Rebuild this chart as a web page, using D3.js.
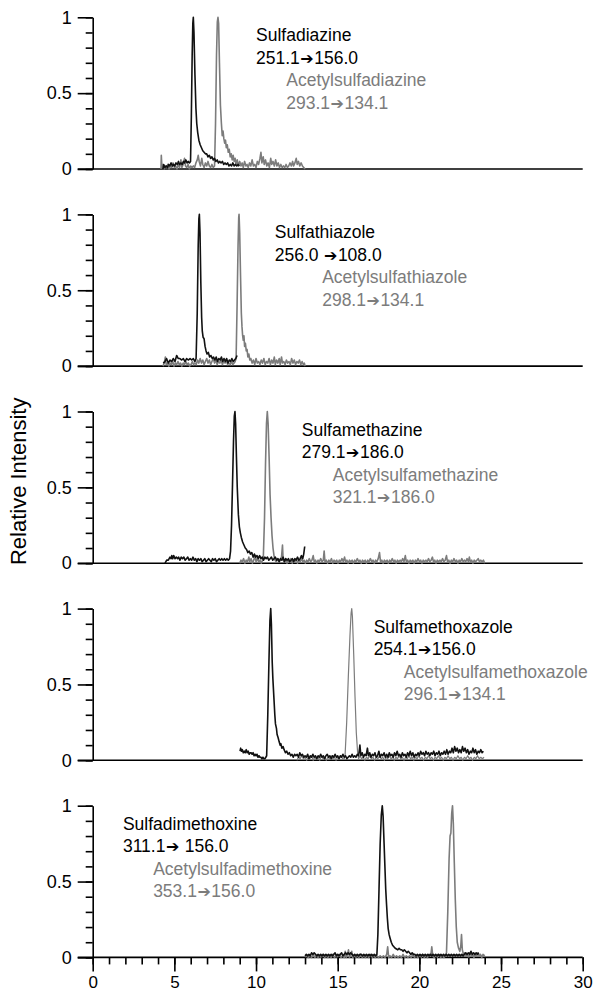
<!DOCTYPE html>
<html>
<head>
<meta charset="utf-8">
<script src="https://cdn.jsdelivr.net/npm/d3@7"></script>
<style>
  body { margin: 0; background: #fff; }
  svg { display: block; font-family: "Liberation Sans", Arial, sans-serif; }
</style>
</head>
<body>
<div id="chart"></div>
<script>
// chromatogram data: [retention time (min), relative intensity]

// panel 1
const sulfadiazine = [[4.30,0.00],[4.35,0.03],[4.42,0.01],[4.50,0.02],[4.58,0.01],[4.65,0.03],[4.72,0.02],[4.80,0.04],[4.88,0.02],[4.95,0.03],[5.02,0.02],[5.10,0.04],[5.18,0.03],[5.25,0.05],[5.32,0.03],[5.40,0.04],[5.48,0.03],[5.55,0.05],[5.62,0.04],[5.70,0.06],[5.78,0.04],[5.85,0.05],[5.92,0.04],[5.99,0.05],[6.04,0.35],[6.09,0.75],[6.13,0.96],[6.16,1.00],[6.20,0.90],[6.26,0.62],[6.32,0.40],[6.37,0.30],[6.43,0.24],[6.50,0.19],[6.58,0.16],[6.66,0.14],[6.74,0.12],[6.82,0.11],[6.90,0.10],[6.98,0.10],[7.06,0.08],[7.14,0.09],[7.22,0.07],[7.30,0.08],[7.38,0.06],[7.46,0.07],[7.54,0.05],[7.62,0.06],[7.70,0.04],[7.78,0.05],[7.86,0.04],[7.94,0.05],[8.02,0.03],[8.10,0.04],[8.18,0.03],[8.26,0.04],[8.34,0.02],[8.42,0.03],[8.50,0.02],[8.58,0.04],[8.66,0.02],[8.74,0.03],[8.82,0.02],[8.90,0.03],[8.98,0.02]];
const acetylsulfadiazine = [[4.18,0.00],[4.20,0.09],[4.24,0.01],[4.30,0.03],[4.38,0.00],[4.45,0.02],[4.52,0.01],[4.60,0.03],[4.68,0.00],[4.76,0.02],[4.84,0.01],[4.92,0.04],[5.00,0.01],[5.08,0.02],[5.16,0.00],[5.24,0.03],[5.32,0.01],[5.40,0.06],[5.46,0.01],[5.54,0.03],[5.62,0.07],[5.68,0.02],[5.76,0.01],[5.84,0.03],[5.92,0.00],[6.00,0.02],[6.08,0.01],[6.16,0.02],[6.24,0.01],[6.32,0.04],[6.40,0.06],[6.46,0.09],[6.52,0.05],[6.60,0.02],[6.68,0.07],[6.74,0.03],[6.82,0.01],[6.90,0.04],[6.98,0.02],[7.06,0.05],[7.14,0.02],[7.22,0.01],[7.30,0.03],[7.38,0.01],[7.46,0.02],[7.52,0.30],[7.58,0.75],[7.63,0.97],[7.67,1.00],[7.71,0.96],[7.76,0.70],[7.82,0.42],[7.88,0.30],[7.93,0.22],[7.98,0.25],[8.03,0.20],[8.08,0.17],[8.13,0.19],[8.18,0.14],[8.24,0.16],[8.30,0.11],[8.36,0.13],[8.42,0.08],[8.48,0.10],[8.54,0.06],[8.60,0.09],[8.66,0.05],[8.72,0.07],[8.78,0.03],[8.85,0.06],[8.92,0.02],[9.00,0.05],[9.08,0.02],[9.15,0.04],[9.22,0.01],[9.30,0.05],[9.38,0.02],[9.45,0.03],[9.52,0.01],[9.60,0.04],[9.68,0.02],[9.76,0.06],[9.84,0.02],[9.92,0.03],[10.00,0.01],[10.08,0.05],[10.16,0.03],[10.24,0.07],[10.30,0.11],[10.36,0.04],[10.44,0.08],[10.50,0.03],[10.58,0.06],[10.66,0.02],[10.74,0.04],[10.82,0.01],[10.90,0.07],[10.96,0.03],[11.04,0.05],[11.12,0.02],[11.20,0.06],[11.28,0.02],[11.36,0.04],[11.44,0.01],[11.52,0.03],[11.60,0.01],[11.68,0.02],[11.76,0.01],[11.84,0.03],[11.92,0.01],[12.00,0.02],[12.08,0.04],[12.16,0.02],[12.24,0.05],[12.30,0.02],[12.38,0.04],[12.46,0.07],[12.52,0.03],[12.60,0.05],[12.68,0.02],[12.76,0.04],[12.84,0.02],[12.92,0.01],[13.00,0.00]];

// panel 2
const sulfathiazole = [[4.32,0.02],[4.42,0.03],[4.52,0.05],[4.63,0.02],[4.73,0.04],[4.83,0.03],[4.93,0.05],[5.04,0.03],[5.14,0.07],[5.24,0.05],[5.34,0.05],[5.45,0.04],[5.55,0.05],[5.65,0.03],[5.75,0.05],[5.85,0.04],[5.96,0.05],[6.06,0.04],[6.16,0.05],[6.26,0.03],[6.33,0.05],[6.40,0.35],[6.46,0.80],[6.50,0.97],[6.53,1.00],[6.57,0.88],[6.62,0.55],[6.67,0.32],[6.71,0.23],[6.76,0.19],[6.82,0.18],[6.88,0.13],[6.94,0.10],[7.00,0.08],[7.08,0.09],[7.16,0.06],[7.24,0.07],[7.32,0.05],[7.40,0.06],[7.48,0.04],[7.56,0.06],[7.64,0.03],[7.72,0.05],[7.80,0.04],[7.88,0.06],[7.96,0.03],[8.04,0.05],[8.12,0.03],[8.20,0.05],[8.28,0.02],[8.36,0.04],[8.44,0.03],[8.52,0.05],[8.60,0.03],[8.68,0.04],[8.76,0.05],[8.84,0.07]];
const acetylsulfathiazole = [[4.30,0.00],[4.38,0.02],[4.45,0.06],[4.50,0.01],[4.58,0.02],[4.66,0.00],[4.74,0.02],[4.82,0.01],[4.90,0.03],[4.98,0.00],[5.06,0.02],[5.14,0.01],[5.22,0.03],[5.30,0.01],[5.38,0.02],[5.46,0.00],[5.54,0.02],[5.62,0.01],[5.70,0.03],[5.78,0.01],[5.86,0.02],[5.94,0.00],[6.02,0.01],[6.10,0.03],[6.18,0.01],[6.26,0.02],[6.34,0.01],[6.42,0.04],[6.50,0.02],[6.58,0.05],[6.66,0.02],[6.74,0.04],[6.82,0.01],[6.90,0.03],[6.98,0.05],[7.06,0.02],[7.14,0.04],[7.22,0.01],[7.30,0.03],[7.38,0.05],[7.46,0.02],[7.54,0.04],[7.62,0.01],[7.70,0.03],[7.78,0.02],[7.86,0.04],[7.94,0.01],[8.02,0.03],[8.10,0.02],[8.18,0.04],[8.26,0.01],[8.34,0.02],[8.42,0.01],[8.50,0.03],[8.58,0.01],[8.66,0.02],[8.72,0.03],[8.78,0.05],[8.84,0.40],[8.90,0.80],[8.94,0.98],[8.96,1.00],[9.00,0.88],[9.05,0.60],[9.10,0.35],[9.14,0.26],[9.18,0.20],[9.22,0.17],[9.26,0.20],[9.30,0.13],[9.35,0.15],[9.40,0.10],[9.45,0.11],[9.50,0.06],[9.56,0.08],[9.62,0.04],[9.68,0.05],[9.76,0.02],[9.84,0.04],[9.92,0.01],[10.00,0.05],[10.08,0.02],[10.16,0.03],[10.24,0.01],[10.32,0.04],[10.40,0.02],[10.48,0.05],[10.56,0.01],[10.64,0.03],[10.72,0.02],[10.80,0.05],[10.88,0.01],[10.96,0.04],[11.04,0.02],[11.12,0.06],[11.18,0.01],[11.26,0.04],[11.34,0.02],[11.42,0.05],[11.48,0.01],[11.56,0.06],[11.62,0.02],[11.70,0.03],[11.78,0.01],[11.86,0.04],[11.94,0.02],[12.02,0.03],[12.10,0.01],[12.18,0.05],[12.26,0.02],[12.34,0.04],[12.42,0.01],[12.50,0.03],[12.58,0.02],[12.66,0.04],[12.74,0.01],[12.82,0.03],[12.90,0.01],[12.96,0.02],[13.00,0.00]];

// panel 3
const sulfamethazine = [[4.43,0.00],[4.53,0.02],[4.63,0.02],[4.73,0.04],[4.80,0.03],[4.84,0.05],[4.90,0.03],[4.96,0.05],[5.04,0.03],[5.12,0.04],[5.20,0.03],[5.26,0.04],[5.34,0.02],[5.42,0.04],[5.50,0.03],[5.58,0.04],[5.66,0.02],[5.74,0.03],[5.82,0.04],[5.90,0.02],[5.98,0.03],[6.06,0.02],[6.14,0.04],[6.22,0.02],[6.30,0.03],[6.38,0.01],[6.46,0.03],[6.54,0.02],[6.62,0.03],[6.70,0.01],[6.78,0.02],[6.86,0.03],[6.94,0.01],[7.02,0.02],[7.10,0.03],[7.18,0.02],[7.26,0.01],[7.34,0.03],[7.42,0.02],[7.50,0.03],[7.58,0.01],[7.66,0.02],[7.74,0.03],[7.82,0.02],[7.90,0.03],[7.98,0.02],[8.06,0.03],[8.14,0.02],[8.22,0.03],[8.30,0.02],[8.38,0.03],[8.44,0.08],[8.50,0.25],[8.56,0.52],[8.62,0.80],[8.67,0.97],[8.71,1.00],[8.75,0.92],[8.80,0.70],[8.85,0.50],[8.92,0.32],[8.98,0.24],[9.04,0.20],[9.10,0.17],[9.18,0.14],[9.26,0.12],[9.34,0.10],[9.42,0.09],[9.50,0.07],[9.58,0.08],[9.66,0.06],[9.74,0.07],[9.82,0.04],[9.90,0.06],[9.98,0.04],[10.06,0.05],[10.14,0.03],[10.22,0.05],[10.30,0.03],[10.38,0.04],[10.46,0.02],[10.54,0.04],[10.62,0.03],[10.70,0.04],[10.78,0.02],[10.86,0.03],[10.94,0.04],[11.02,0.02],[11.10,0.03],[11.18,0.04],[11.26,0.02],[11.34,0.03],[11.42,0.01],[11.50,0.03],[11.58,0.02],[11.66,0.04],[11.74,0.01],[11.82,0.03],[11.90,0.02],[11.98,0.03],[12.06,0.01],[12.14,0.02],[12.22,0.03],[12.30,0.01],[12.38,0.03],[12.46,0.02],[12.54,0.04],[12.62,0.02],[12.70,0.03],[12.78,0.05],[12.86,0.03],[12.92,0.06],[12.98,0.11]];
const acetylsulfamethazine = [[9.00,0.00],[9.08,0.02],[9.16,0.01],[9.24,0.03],[9.32,0.00],[9.40,0.02],[9.48,0.01],[9.56,0.04],[9.62,0.01],[9.70,0.03],[9.78,0.00],[9.86,0.02],[9.94,0.05],[10.00,0.01],[10.08,0.03],[10.16,0.01],[10.24,0.02],[10.32,0.00],[10.40,0.02],[10.45,0.05],[10.52,0.30],[10.58,0.65],[10.64,0.92],[10.69,1.00],[10.74,0.92],[10.80,0.70],[10.86,0.45],[10.92,0.30],[10.98,0.18],[11.04,0.10],[11.10,0.05],[11.16,0.02],[11.24,0.01],[11.32,0.03],[11.40,0.01],[11.48,0.02],[11.56,0.04],[11.62,0.12],[11.66,0.02],[11.74,0.01],[11.82,0.03],[11.90,0.00],[11.98,0.02],[12.06,0.01],[12.14,0.03],[12.22,0.00],[12.30,0.02],[12.38,0.01],[12.46,0.03],[12.54,0.00],[12.62,0.02],[12.70,0.01],[12.78,0.03],[12.86,0.01],[12.94,0.02],[13.02,0.00],[13.10,0.02],[13.18,0.01],[13.26,0.03],[13.34,0.01],[13.42,0.02],[13.50,0.05],[13.56,0.01],[13.64,0.02],[13.72,0.00],[13.80,0.02],[13.88,0.01],[13.96,0.03],[14.04,0.01],[14.12,0.02],[14.17,0.08],[14.22,0.01],[14.30,0.02],[14.38,0.00],[14.46,0.02],[14.54,0.01],[14.62,0.03],[14.70,0.00],[14.78,0.02],[14.86,0.01],[14.94,0.02],[15.02,0.00],[15.10,0.02],[15.18,0.01],[15.26,0.03],[15.34,0.01],[15.42,0.04],[15.48,0.01],[15.56,0.02],[15.64,0.00],[15.72,0.02],[15.80,0.01],[15.88,0.02],[15.96,0.00],[16.04,0.02],[16.12,0.01],[16.20,0.03],[16.28,0.01],[16.36,0.02],[16.44,0.00],[16.52,0.02],[16.60,0.01],[16.68,0.02],[16.76,0.00],[16.84,0.02],[16.92,0.01],[17.00,0.03],[17.08,0.01],[17.16,0.02],[17.24,0.00],[17.32,0.02],[17.40,0.01],[17.48,0.03],[17.56,0.07],[17.62,0.01],[17.70,0.02],[17.78,0.00],[17.86,0.02],[17.94,0.01],[18.02,0.02],[18.10,0.00],[18.18,0.02],[18.26,0.01],[18.34,0.03],[18.42,0.01],[18.50,0.02],[18.58,0.00],[18.66,0.02],[18.74,0.01],[18.82,0.02],[18.90,0.01],[18.98,0.03],[19.06,0.01],[19.14,0.05],[19.20,0.01],[19.28,0.02],[19.36,0.00],[19.44,0.02],[19.52,0.01],[19.60,0.02],[19.68,0.00],[19.76,0.02],[19.84,0.01],[19.92,0.03],[20.00,0.01],[20.08,0.02],[20.16,0.00],[20.24,0.02],[20.32,0.01],[20.40,0.02],[20.48,0.01],[20.56,0.03],[20.64,0.01],[20.72,0.02],[20.80,0.04],[20.86,0.01],[20.94,0.02],[21.02,0.00],[21.10,0.02],[21.18,0.01],[21.26,0.02],[21.34,0.01],[21.42,0.03],[21.50,0.01],[21.58,0.02],[21.66,0.05],[21.72,0.01],[21.80,0.02],[21.88,0.00],[21.96,0.02],[22.04,0.01],[22.12,0.03],[22.20,0.01],[22.28,0.02],[22.36,0.00],[22.44,0.02],[22.52,0.01],[22.60,0.03],[22.68,0.01],[22.76,0.02],[22.84,0.01],[22.92,0.03],[23.00,0.01],[23.06,0.04],[23.12,0.01],[23.20,0.02],[23.28,0.00],[23.36,0.02],[23.44,0.01],[23.52,0.02],[23.60,0.03],[23.68,0.01],[23.76,0.02],[23.84,0.01],[23.92,0.02],[24.00,0.00]];

// panel 4
const sulfamethoxazole = [[9.02,0.06],[9.06,0.08],[9.10,0.06],[9.16,0.07],[9.22,0.05],[9.28,0.06],[9.34,0.05],[9.40,0.07],[9.46,0.05],[9.52,0.06],[9.58,0.04],[9.64,0.05],[9.70,0.05],[9.76,0.04],[9.82,0.05],[9.88,0.03],[9.94,0.04],[10.00,0.03],[10.06,0.04],[10.12,0.02],[10.18,0.03],[10.24,0.02],[10.30,0.02],[10.36,0.01],[10.42,0.02],[10.48,0.01],[10.54,0.01],[10.60,0.02],[10.65,0.03],[10.72,0.30],[10.79,0.65],[10.85,0.92],[10.90,1.00],[10.94,0.90],[10.99,0.65],[11.03,0.54],[11.10,0.40],[11.15,0.30],[11.19,0.24],[11.25,0.21],[11.29,0.17],[11.35,0.15],[11.42,0.12],[11.48,0.10],[11.52,0.11],[11.58,0.08],[11.66,0.09],[11.72,0.07],[11.80,0.05],[11.88,0.06],[11.96,0.04],[12.04,0.05],[12.12,0.03],[12.20,0.04],[12.28,0.02],[12.36,0.04],[12.44,0.03],[12.52,0.04],[12.60,0.02],[12.68,0.05],[12.76,0.03],[12.84,0.04],[12.92,0.02],[13.00,0.03],[13.08,0.02],[13.16,0.04],[13.24,0.01],[13.32,0.03],[13.40,0.02],[13.48,0.04],[13.56,0.02],[13.64,0.03],[13.72,0.01],[13.80,0.03],[13.88,0.02],[13.96,0.04],[14.04,0.02],[14.12,0.03],[14.20,0.01],[14.28,0.03],[14.36,0.04],[14.44,0.02],[14.52,0.03],[14.60,0.01],[14.68,0.03],[14.76,0.02],[14.84,0.04],[14.92,0.02],[15.00,0.03],[15.08,0.01],[15.16,0.03],[15.24,0.02],[15.32,0.04],[15.40,0.02],[15.48,0.03],[15.56,0.01],[15.64,0.02],[15.72,0.03],[15.80,0.02],[15.88,0.04],[15.96,0.02],[16.04,0.03],[16.12,0.02],[16.20,0.04],[16.28,0.03],[16.36,0.10],[16.42,0.03],[16.50,0.05],[16.58,0.02],[16.66,0.04],[16.74,0.03],[16.82,0.08],[16.88,0.03],[16.96,0.05],[17.04,0.02],[17.12,0.04],[17.20,0.03],[17.28,0.05],[17.36,0.02],[17.44,0.03],[17.52,0.06],[17.60,0.02],[17.68,0.04],[17.76,0.03],[17.84,0.05],[17.92,0.02],[18.00,0.04],[18.08,0.02],[18.16,0.05],[18.24,0.03],[18.32,0.04],[18.40,0.02],[18.48,0.05],[18.56,0.03],[18.64,0.06],[18.72,0.03],[18.80,0.04],[18.88,0.02],[18.96,0.05],[19.04,0.03],[19.12,0.04],[19.20,0.02],[19.28,0.05],[19.36,0.03],[19.44,0.06],[19.52,0.03],[19.60,0.05],[19.68,0.02],[19.76,0.04],[19.84,0.03],[19.92,0.05],[20.00,0.03],[20.08,0.06],[20.16,0.04],[20.24,0.05],[20.32,0.03],[20.40,0.06],[20.48,0.04],[20.56,0.05],[20.64,0.03],[20.72,0.05],[20.80,0.04],[20.88,0.06],[20.96,0.03],[21.04,0.05],[21.12,0.04],[21.20,0.06],[21.28,0.03],[21.36,0.05],[21.44,0.04],[21.52,0.06],[21.60,0.04],[21.68,0.07],[21.76,0.04],[21.84,0.06],[21.92,0.05],[22.00,0.08],[22.08,0.05],[22.16,0.09],[22.24,0.06],[22.32,0.08],[22.40,0.05],[22.48,0.07],[22.56,0.05],[22.64,0.09],[22.72,0.06],[22.80,0.08],[22.88,0.05],[22.96,0.07],[23.04,0.04],[23.12,0.06],[23.20,0.05],[23.28,0.08],[23.36,0.05],[23.44,0.07],[23.52,0.04],[23.60,0.06],[23.68,0.05],[23.76,0.07],[23.84,0.05],[23.92,0.06]];
const acetylsulfamethoxazole = [[12.50,0.00],[12.60,0.02],[12.70,0.01],[12.80,0.03],[12.90,0.01],[13.00,0.02],[13.10,0.00],[13.20,0.02],[13.30,0.01],[13.40,0.03],[13.50,0.00],[13.60,0.02],[13.70,0.01],[13.80,0.02],[13.90,0.00],[14.00,0.03],[14.10,0.01],[14.20,0.02],[14.30,0.00],[14.40,0.02],[14.50,0.01],[14.60,0.03],[14.70,0.01],[14.80,0.02],[14.90,0.00],[15.00,0.02],[15.10,0.01],[15.20,0.03],[15.30,0.01],[15.40,0.01],[15.45,0.03],[15.55,0.25],[15.65,0.55],[15.75,0.82],[15.82,0.97],[15.86,1.00],[15.90,0.95],[15.98,0.70],[16.06,0.42],[16.14,0.18],[16.22,0.05],[16.28,0.01],[16.36,0.03],[16.46,0.01],[16.56,0.02],[16.66,0.00],[16.76,0.02],[16.86,0.01],[16.96,0.03],[17.06,0.01],[17.16,0.02],[17.26,0.00],[17.36,0.02],[17.46,0.01],[17.56,0.03],[17.66,0.01],[17.76,0.02],[17.86,0.00],[17.96,0.02],[18.06,0.01],[18.16,0.03],[18.26,0.01],[18.36,0.02],[18.46,0.00],[18.56,0.02],[18.66,0.01],[18.76,0.03],[18.86,0.01],[18.96,0.02],[19.06,0.00],[19.16,0.02],[19.26,0.01],[19.36,0.03],[19.46,0.01],[19.56,0.02],[19.66,0.00],[19.76,0.02],[19.86,0.01],[19.96,0.03],[20.06,0.01],[20.16,0.02],[20.26,0.00],[20.36,0.02],[20.46,0.01],[20.56,0.03],[20.66,0.01],[20.76,0.02],[20.86,0.00],[20.96,0.02],[21.06,0.01],[21.16,0.03],[21.26,0.01],[21.36,0.02],[21.46,0.00],[21.56,0.02],[21.66,0.01],[21.76,0.03],[21.86,0.01],[21.96,0.02],[22.06,0.00],[22.16,0.02],[22.26,0.01],[22.36,0.03],[22.46,0.01],[22.56,0.02],[22.66,0.00],[22.76,0.02],[22.86,0.01],[22.96,0.03],[23.06,0.01],[23.16,0.02],[23.26,0.00],[23.36,0.02],[23.46,0.01],[23.56,0.03],[23.66,0.01],[23.76,0.02],[23.86,0.01],[23.96,0.02]];

// panel 5
const sulfadimethoxine = [[13.00,0.01],[13.08,0.02],[13.16,0.01],[13.24,0.02],[13.32,0.01],[13.40,0.03],[13.48,0.02],[13.56,0.03],[13.64,0.02],[13.72,0.01],[13.80,0.02],[13.88,0.01],[13.96,0.02],[14.04,0.01],[14.12,0.02],[14.20,0.01],[14.28,0.02],[14.36,0.01],[14.44,0.02],[14.52,0.01],[14.60,0.02],[14.68,0.01],[14.76,0.02],[14.84,0.03],[14.92,0.01],[15.00,0.02],[15.08,0.01],[15.16,0.02],[15.24,0.03],[15.32,0.01],[15.40,0.02],[15.48,0.03],[15.56,0.02],[15.64,0.03],[15.72,0.02],[15.80,0.03],[15.88,0.02],[15.96,0.01],[16.04,0.02],[16.12,0.01],[16.20,0.02],[16.28,0.01],[16.36,0.02],[16.44,0.02],[16.52,0.01],[16.60,0.02],[16.68,0.01],[16.76,0.02],[16.84,0.01],[16.92,0.02],[17.00,0.01],[17.08,0.02],[17.16,0.01],[17.24,0.02],[17.32,0.01],[17.40,0.02],[17.46,0.15],[17.53,0.45],[17.60,0.75],[17.67,0.94],[17.73,1.00],[17.78,0.93],[17.84,0.75],[17.89,0.60],[17.94,0.45],[17.99,0.35],[18.04,0.26],[18.09,0.19],[18.15,0.15],[18.20,0.13],[18.28,0.10],[18.36,0.08],[18.44,0.07],[18.52,0.06],[18.60,0.055],[18.68,0.05],[18.76,0.06],[18.84,0.05],[18.92,0.05],[19.00,0.04],[19.08,0.05],[19.16,0.04],[19.24,0.03],[19.32,0.04],[19.40,0.03],[19.48,0.02],[19.56,0.03],[19.64,0.02],[19.72,0.02],[19.80,0.01],[19.88,0.02],[19.96,0.01],[20.04,0.02],[20.12,0.01],[20.20,0.02],[20.28,0.01],[20.36,0.02],[20.44,0.01],[20.52,0.02],[20.60,0.01],[20.68,0.02],[20.76,0.01],[20.84,0.02],[20.92,0.01],[21.00,0.02],[21.08,0.01],[21.16,0.02],[21.24,0.01],[21.32,0.02],[21.40,0.01],[21.48,0.02],[21.56,0.01],[21.64,0.02],[21.72,0.01],[21.80,0.02],[21.88,0.01],[21.96,0.02],[22.04,0.01],[22.12,0.02],[22.20,0.01],[22.28,0.02],[22.36,0.01],[22.44,0.02],[22.52,0.01],[22.60,0.02],[22.68,0.01],[22.76,0.02],[22.84,0.03],[22.92,0.02],[23.00,0.03],[23.08,0.02],[23.16,0.04],[23.24,0.02],[23.32,0.03],[23.40,0.02],[23.48,0.03],[23.56,0.02],[23.64,0.03]];
const acetylsulfadimethoxine = [[13.00,0.00],[13.10,0.01],[13.20,0.00],[13.30,0.01],[13.40,0.00],[13.50,0.02],[13.60,0.00],[13.70,0.01],[13.80,0.00],[13.90,0.01],[14.00,0.00],[14.10,0.02],[14.20,0.00],[14.30,0.01],[14.40,0.00],[14.50,0.01],[14.60,0.00],[14.70,0.02],[14.80,0.00],[14.90,0.01],[15.00,0.00],[15.10,0.02],[15.20,0.00],[15.30,0.01],[15.40,0.00],[15.46,0.04],[15.52,0.00],[15.60,0.02],[15.66,0.05],[15.72,0.00],[15.80,0.02],[15.86,0.04],[15.92,0.00],[16.00,0.01],[16.10,0.00],[16.20,0.01],[16.30,0.00],[16.40,0.02],[16.50,0.00],[16.60,0.01],[16.70,0.00],[16.80,0.01],[16.90,0.00],[17.00,0.02],[17.10,0.00],[17.20,0.01],[17.30,0.00],[17.40,0.01],[17.50,0.00],[17.60,0.01],[17.70,0.00],[17.80,0.01],[17.90,0.00],[18.00,0.02],[18.06,0.07],[18.12,0.00],[18.20,0.01],[18.30,0.00],[18.40,0.02],[18.50,0.00],[18.60,0.01],[18.70,0.00],[18.80,0.01],[18.90,0.00],[19.00,0.02],[19.10,0.00],[19.20,0.01],[19.30,0.00],[19.40,0.01],[19.50,0.00],[19.60,0.02],[19.70,0.00],[19.80,0.01],[19.90,0.00],[20.00,0.01],[20.10,0.00],[20.20,0.02],[20.30,0.00],[20.40,0.01],[20.50,0.00],[20.60,0.02],[20.70,0.01],[20.76,0.07],[20.82,0.01],[20.90,0.00],[21.00,0.01],[21.10,0.00],[21.20,0.02],[21.30,0.00],[21.40,0.01],[21.50,0.00],[21.60,0.01],[21.66,0.03],[21.74,0.30],[21.82,0.65],[21.88,0.80],[21.93,0.82],[21.98,0.95],[22.03,1.00],[22.08,0.88],[22.14,0.62],[22.20,0.38],[22.26,0.20],[22.32,0.10],[22.40,0.06],[22.48,0.04],[22.54,0.08],[22.58,0.15],[22.63,0.05],[22.70,0.02],[22.78,0.03],[22.86,0.01],[22.94,0.02],[23.02,0.00],[23.10,0.03],[23.18,0.01],[23.26,0.02],[23.34,0.00],[23.42,0.02],[23.50,0.01],[23.58,0.03],[23.66,0.01],[23.74,0.02],[23.82,0.00],[23.90,0.02],[24.00,0.01]];

// labels
const drugNames = ["Sulfadiazine", "Sulfathiazole", "Sulfamethazine", "Sulfamethoxazole", "Sulfadimethoxine"];
const drugTransitions = [["251.1", "156.0"], ["256.0 ", "108.0"], ["279.1", "186.0"], ["254.1", "156.0"], ["311.1", " 156.0"]];
const metaboliteNames = ["Acetylsulfadiazine", "Acetylsulfathiazole", "Acetylsulfamethazine", "Acetylsulfamethoxazole", "Acetylsulfadimethoxine"];
const metaboliteTransitions = [["293.1", "134.1"], ["298.1", "134.1"], ["321.1", "186.0"], ["296.1", "134.1"], ["353.1", "156.0"]];
const drugTraces = [sulfadiazine, sulfathiazole, sulfamethazine, sulfamethoxazole, sulfadimethoxine];
const metaboliteTraces = [acetylsulfadiazine, acetylsulfathiazole, acetylsulfamethazine, acetylsulfamethoxazole, acetylsulfadimethoxine];
const yMajorTicks = [0, 0.5, 1];
const xMajorTicks = [0, 5, 10, 15, 20, 25, 30];

// where the text block of each panel starts (minutes), and the indent of the grey lines
const labelX = [10.0, 11.15, 12.8, 17.2, 1.85];
const labelIndent = [1.85, 2.9, 1.9, 1.85, 1.85];

const width = 600;
const height = 994;
const panelTop = 17.3;
const panelStep = 197.1;
const panelHeight = 151.7;
const black = "#111";
const grey = "#7c7c7c";

const svg = d3.select("#chart")
  .append("svg")
  .attr("width", width)
  .attr("height", height);

const x = d3.scaleLinear().domain([0, 30]).range([92.7, 582.7]);

const line = d3.line();

// "a→b" with a heavier arrow glyph
function transition(sel, parts) {
  sel.append("tspan").text(parts[0]);
  sel.append("tspan").attr("font-family", "DejaVu Sans").attr("font-size", 16).attr("dx", 0.5).text("\u2794");
  sel.append("tspan").attr("dx", 0.5).text(parts[1]);
}

drugTraces.forEach((drug, i) => {
  const top = panelTop + i * panelStep;
  const y = d3.scaleLinear().domain([0, 1]).range([top + panelHeight, top]);
  const g = svg.append("g");

  // baseline running out to 30 min
  g.append("line")
    .attr("x1", x(0) - 15).attr("x2", x(30))
    .attr("y1", y(0)).attr("y2", y(0))
    .attr("stroke", "#000").attr("stroke-width", 1.6);

  // y axis: minor ticks then major ticks with labels
  g.append("g")
    .attr("transform", `translate(${x(0)},0)`)
    .call(d3.axisLeft(y).tickValues(d3.range(0, 11).map(d => d / 10)).tickSize(7).tickSizeOuter(0).tickFormat(""))
    .call(a => a.selectAll("line").attr("stroke-width", 1.6))
    .call(a => a.select(".domain").attr("stroke-width", 1.6));

  g.append("g")
    .attr("transform", `translate(${x(0)},0)`)
    .call(d3.axisLeft(y).tickValues(yMajorTicks).tickSize(15).tickPadding(6).tickFormat(d3.format("")))
    .call(a => a.select(".domain").remove())
    .call(a => a.selectAll("line").attr("stroke-width", 1.6))
    .call(a => a.selectAll("text").attr("font-size", 18).attr("fill", "#000").attr("font-family", null));

  // traces: grey (acetyl metabolite) under black (parent drug)
  line.x(d => x(d[0])).y(d => y(d[1]));
  g.append("path")
    .datum(metaboliteTraces[i])
    .attr("d", line)
    .attr("fill", "none")
    .attr("stroke", grey)
    .attr("stroke-width", i === 3 ? 1.2 : 1.6)
    .attr("stroke-linejoin", "round");
  g.append("path")
    .datum(drug)
    .attr("d", line)
    .attr("fill", "none")
    .attr("stroke", black)
    .attr("stroke-width", 1.6)
    .attr("stroke-linejoin", "round");

  // compound labels
  const lx = x(labelX[i]);
  const gx = x(labelX[i] + labelIndent[i]);
  const text = g.append("g").attr("font-size", 17.5);
  text.append("text").attr("x", lx).attr("y", top + 24).attr("fill", "#000").text(drugNames[i]);
  text.append("text").attr("x", lx).attr("y", top + 46.5).attr("fill", "#000").call(transition, drugTransitions[i]);
  text.append("text").attr("x", gx).attr("y", top + 69).attr("fill", grey).text(metaboliteNames[i]);
  text.append("text").attr("x", gx).attr("y", top + 91.5).attr("fill", grey).call(transition, metaboliteTransitions[i]);

  // x axis only on the last panel
  if (i === drugTraces.length - 1) {
    g.append("g")
      .attr("transform", `translate(0,${y(0)})`)
      .call(d3.axisBottom(x).tickValues(d3.range(0, 31)).tickSize(7).tickSizeOuter(0).tickFormat(""))
      .call(a => a.select(".domain").remove())
      .call(a => a.selectAll("line").attr("stroke-width", 1.6));
    g.append("g")
      .attr("transform", `translate(0,${y(0)})`)
      .call(d3.axisBottom(x).tickValues(xMajorTicks).tickSize(14).tickPadding(5))
      .call(a => a.select(".domain").remove())
      .call(a => a.selectAll("line").attr("stroke-width", 1.6))
      .call(a => a.selectAll("text").attr("font-size", 17).attr("fill", "#000").attr("font-family", null));
  }
});

// shared y label
svg.append("text")
  .attr("transform", `translate(26,${panelTop + 2 * panelStep + panelHeight / 2 - 6}) rotate(-90)`)
  .attr("text-anchor", "middle")
  .attr("font-size", 22)
  .text("Relative Intensity");
</script>
</body>
</html>
